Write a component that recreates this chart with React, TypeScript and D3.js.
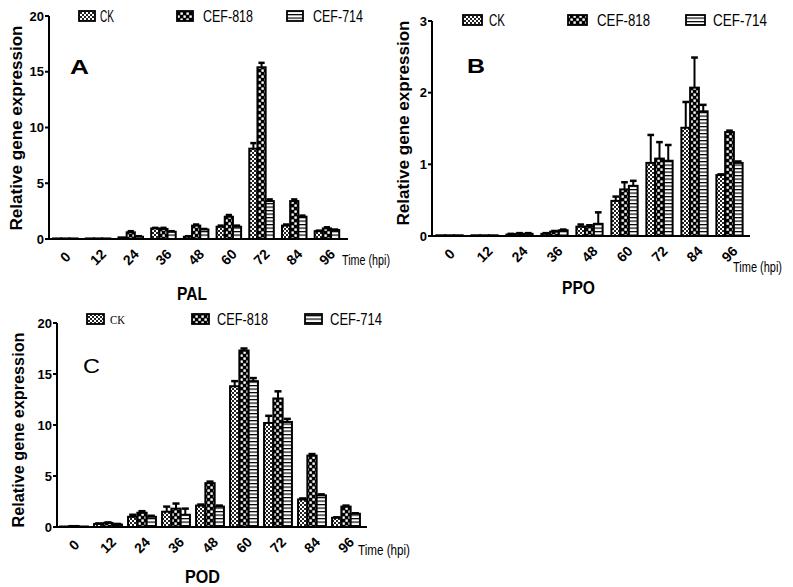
import React from "react";
import * as d3 from "d3";

const categories = ["0", "12", "24", "36", "48", "60", "72", "84", "96"];
const seriesNames = ["CK", "CEF-818", "CEF-714"];

// PAL (panel A)
const palCK = [0.05, 0.05, 0.15, 0.95, 0.2, 1.1, 8.1, 1.2, 0.7];
const pal818 = [0.05, 0.05, 0.6, 0.9, 1.2, 2.0, 15.4, 3.4, 0.95];
const pal714 = [0.05, 0.05, 0.2, 0.65, 0.85, 1.1, 3.4, 2.0, 0.8];
const palCKErr = [0, 0, 0, 0.05, 0.05, 0.1, 0.5, 0.1, 0.05];
const pal818Err = [0, 0, 0.1, 0.1, 0.1, 0.15, 0.4, 0.15, 0.1];
const pal714Err = [0, 0, 0.05, 0.05, 0.05, 0.1, 0.15, 0.1, 0.05];
const palTicks = [0, 5, 10, 15, 20];

// PPO (panel B)
const ppoCK = [0.01, 0.01, 0.02, 0.03, 0.13, 0.49, 1.02, 1.51, 0.85];
const ppo818 = [0.01, 0.01, 0.03, 0.06, 0.13, 0.65, 1.08, 2.07, 1.45];
const ppo714 = [0.01, 0.01, 0.03, 0.08, 0.17, 0.7, 1.05, 1.74, 1.02];
const ppoCKErr = [0, 0, 0.01, 0.01, 0.03, 0.06, 0.39, 0.36, 0.01];
const ppo818Err = [0, 0, 0.01, 0.01, 0.02, 0.1, 0.23, 0.42, 0.02];
const ppo714Err = [0, 0, 0.01, 0.01, 0.16, 0.07, 0.22, 0.09, 0.02];
const ppoTicks = [0, 1, 2, 3];

// POD (panel C)
const podCK = [0.05, 0.3, 1.0, 1.5, 2.1, 13.8, 10.2, 2.7, 0.9];
const pod818 = [0.1, 0.4, 1.4, 1.8, 4.3, 17.3, 12.6, 7.0, 2.0];
const pod714 = [0.05, 0.25, 1.0, 1.2, 2.0, 14.3, 10.3, 3.1, 1.3];
const podCKErr = [0, 0.05, 0.2, 0.5, 0.1, 0.5, 0.7, 0.1, 0.05];
const pod818Err = [0, 0.05, 0.15, 0.5, 0.15, 0.2, 0.7, 0.15, 0.1];
const pod714Err = [0, 0.05, 0.1, 0.6, 0.1, 0.3, 0.3, 0.1, 0.05];
const podTicks = [0, 5, 10, 15, 20];

const patterns = ["url(#pCK)", "url(#p818)", "url(#p714)"];
const NARROW = "'Liberation Sans Narrow', 'Arial Narrow', 'Liberation Sans', Arial, sans-serif";
const SANS = "'Liberation Sans', Arial, sans-serif";

type PanelCfg = {
  letter: string;
  title: string;
  values: number[][];
  errors: number[][];
  ticks: number[];
  yMax: number;
  x0: number;
  step: number;
  axisEnd: number;
  yTop: number;
  yBottom: number;
  groupFrac: number;
  letterPos: [number, number, number];
  titlePos: [number, number, number];
  timePos: [number, number, number];
  yLabelPos: [number, number, number];
  legendY: number;
  swatchX: number[];
  swatchW: number;
  textX: number[];
  textW: number[];
  ckSerif: boolean;
};

const panels: PanelCfg[] = [
  {
    letter: "A",
    title: "PAL",
    values: [palCK, pal818, pal714],
    errors: [palCKErr, pal818Err, pal714Err],
    ticks: palTicks,
    yMax: 20,
    x0: 49,
    step: 32.7,
    axisEnd: 348,
    yTop: 16,
    yBottom: 239,
    groupFrac: 0.75,
    letterPos: [70, 74, 19],
    titlePos: [177, 300, 30],
    timePos: [342, 265, 48],
    yLabelPos: [22, 128, 205],
    legendY: 16,
    swatchX: [79, 177, 287],
    swatchW: 16,
    textX: [100, 203, 313],
    textW: [14, 50, 50],
    ckSerif: false,
  },
  {
    letter: "B",
    title: "PPO",
    values: [ppoCK, ppo818, ppo714],
    errors: [ppoCKErr, ppo818Err, ppo714Err],
    ticks: ppoTicks,
    yMax: 3,
    x0: 432,
    step: 35,
    axisEnd: 750,
    yTop: 21,
    yBottom: 236,
    groupFrac: 0.75,
    letterPos: [467, 73, 18],
    titlePos: [562, 294, 33],
    timePos: [733, 272, 49],
    yLabelPos: [409, 123, 205],
    legendY: 20,
    swatchX: [463, 568, 686],
    swatchW: 19,
    textX: [489, 597, 713],
    textW: [16, 53, 54],
    ckSerif: false,
  },
  {
    letter: "C",
    title: "POD",
    values: [podCK, pod818, pod714],
    errors: [podCKErr, pod818Err, pod714Err],
    ticks: podTicks,
    yMax: 20,
    x0: 57,
    step: 34,
    axisEnd: 367,
    yTop: 323,
    yBottom: 527,
    groupFrac: 0.82,
    letterPos: [83, 373, 17],
    titlePos: [185, 583, 35],
    timePos: [358, 555, 52],
    yLabelPos: [24, 430, 195],
    legendY: 319,
    swatchX: [87, 192, 305],
    swatchW: 17,
    textX: [110, 217, 330],
    textW: [15, 51, 52],
    ckSerif: true,
  },
];

function Panel({ p }: { p: PanelCfg }) {
  const x = d3
    .scaleBand<string>()
    .domain(categories)
    .range([p.x0, p.x0 + p.step * categories.length])
    .padding(0);
  const gw = x.bandwidth() * p.groupFrac;
  const xs = d3.scaleBand<string>().domain(seriesNames).range([0, gw]).padding(0);
  const y = d3.scaleLinear().domain([0, p.yMax]).range([p.yBottom, p.yTop]);
  const bw = xs.bandwidth();

  return (
    <g>
      {categories.map((c, ci) => {
        const gx = (x(c) as number) + (x.bandwidth() - gw) / 2;
        return (
          <g key={c}>
            {seriesNames.map((s, si) => {
              const v = p.values[si][ci];
              const e = p.errors[si][ci];
              const bx = gx + (xs(s) as number);
              const cx = bx + bw / 2;
              return (
                <g key={s}>
                  {e > 0 && (
                    <g stroke="#000" strokeWidth={2}>
                      <line x1={cx} x2={cx} y1={y(v)} y2={y(v + e)} />
                      <line x1={cx - bw * 0.38} x2={cx + bw * 0.38} y1={y(v + e)} y2={y(v + e)} strokeWidth={2.5} />
                    </g>
                  )}
                  <rect
                    x={bx}
                    y={y(v)}
                    width={bw}
                    height={Math.max(0.5, y(0) - y(v))}
                    fill={patterns[si]}
                    stroke="#000"
                    strokeWidth={2}
                  />
                </g>
              );
            })}
          </g>
        );
      })}
      <line x1={p.x0} x2={p.x0} y1={y(p.yMax)} y2={p.yBottom} stroke="#000" strokeWidth={2} />
      {p.ticks.map((t) => (
        <g key={t}>
          <line x1={p.x0 - 4} x2={p.x0} y1={y(t)} y2={y(t)} stroke="#000" strokeWidth={2} />
          <text
            x={p.x0 - 5}
            y={y(t)}
            dy="0.35em"
            textAnchor="end"
            fontFamily={NARROW}
            fontWeight="bold"
            fontSize={13}
          >
            {t}
          </text>
        </g>
      ))}
      <line x1={p.x0} x2={p.axisEnd} y1={p.yBottom} y2={p.yBottom} stroke="#000" strokeWidth={2} />
      {categories.map((c) => {
        const cx = (x(c) as number) + x.bandwidth() / 2;
        return (
          <text
            key={c}
            transform={`translate(${cx},${p.yBottom + 18}) rotate(-45)`}
            textAnchor="middle"
            dy="0.35em"
            fontFamily={NARROW}
            fontWeight="bold"
            fontSize={14}
          >
            {c}
          </text>
        );
      })}
      <text
        x={p.timePos[0]}
        y={p.timePos[1]}
        fontFamily={NARROW}
        fontSize={14}
        textLength={p.timePos[2]}
        lengthAdjust="spacingAndGlyphs"
      >
        Time (hpi)
      </text>
      <text
        x={p.titlePos[0]}
        y={p.titlePos[1]}
        fontFamily={NARROW}
        fontWeight="bold"
        fontSize={19}
        textLength={p.titlePos[2]}
        lengthAdjust="spacingAndGlyphs"
      >
        {p.title}
      </text>
      <text
        x={p.letterPos[0]}
        y={p.letterPos[1]}
        fontFamily={SANS}
        fontWeight={p.letter === "C" ? "normal" : "bold"}
        fontSize={21}
        textLength={p.letterPos[2]}
        lengthAdjust="spacingAndGlyphs"
      >
        {p.letter}
      </text>
      <text
        transform={`translate(${p.yLabelPos[0]},${p.yLabelPos[1]}) rotate(-90)`}
        textAnchor="middle"
        fontFamily={SANS}
        fontWeight="bold"
        fontSize={16}
        textLength={p.yLabelPos[2]}
        lengthAdjust="spacingAndGlyphs"
      >
        Relative gene expression
      </text>
      {seriesNames.map((s, si) => (
        <g key={s}>
          <rect
            x={p.swatchX[si]}
            y={p.legendY - 5}
            width={p.swatchW}
            height={10}
            fill={patterns[si]}
            stroke="#000"
            strokeWidth={1.8}
          />
          <text
            x={p.textX[si]}
            y={p.legendY}
            dy="0.36em"
            fontFamily={si === 0 && p.ckSerif ? "'Liberation Serif', serif" : NARROW}
            fontSize={si === 0 && p.ckSerif ? 13 : 17}
            textLength={p.textW[si]}
            lengthAdjust="spacingAndGlyphs"
          >
            {s}
          </text>
        </g>
      ))}
    </g>
  );
}

export default function App() {
  return (
    <svg
      width={793}
      height={587}
      style={{ position: "absolute", left: 0, top: 0, background: "#fff" }}
    >
      <defs>
        <pattern id="pCK" width={4} height={4} patternUnits="userSpaceOnUse">
          <rect width={4} height={4} fill="#fff" />
          <rect x={0} y={0} width={2} height={2} fill="#222" />
          <rect x={2} y={2} width={2} height={2} fill="#222" />
        </pattern>
        <pattern id="p818" width={6} height={6} patternUnits="userSpaceOnUse">
          <rect width={6} height={6} fill="#000" />
          <rect x={0.4} y={0.4} width={2.4} height={2.4} fill="#fff" />
          <rect x={3.4} y={3.4} width={2.4} height={2.4} fill="#fff" />
        </pattern>
        <pattern id="p714" width={4} height={3.5} patternUnits="userSpaceOnUse">
          <rect width={4} height={3.5} fill="#fff" />
          <rect x={0} y={0} width={4} height={1.2} fill="#000" />
        </pattern>
      </defs>
      <rect width={793} height={587} fill="#fff" />
      {panels.map((p) => (
        <Panel key={p.letter} p={p} />
      ))}
    </svg>
  );
}
